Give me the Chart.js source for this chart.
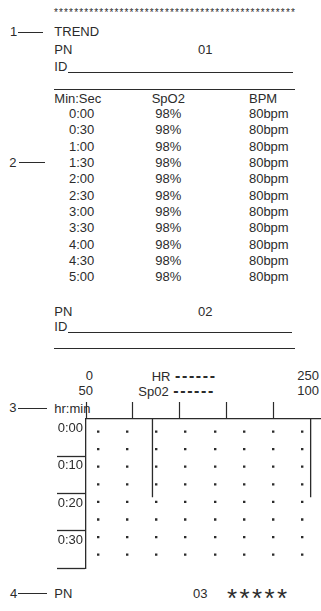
<!DOCTYPE html>
<html>
<head>
<meta charset="utf-8">
<script src="https://cdn.jsdelivr.net/npm/chart.js@4.4.0/dist/chart.umd.min.js"></script>
<style>
body{margin:0;background:#fff;}
#page{position:relative;width:321px;height:611px;overflow:hidden;font-family:"Liberation Sans",Arial,sans-serif;font-size:13px;color:#2b2b2b;}
.t{position:absolute;line-height:13px;white-space:nowrap;}
.hl{position:absolute;height:0;border-top:1.3px solid #2b2b2b;}
.dash{font-weight:bold;font-size:16px;letter-spacing:1.6px;margin-left:1px;}
#trend{position:absolute;left:0;top:395px;}
</style>
</head>
<body>
<div id="page">
  <div class="t" style="left:54px;top:7.5px;font-size:10px;line-height:10px;letter-spacing:1.15px">************************************************</div>

  <div class="t" style="left:10px;top:25.3px">1</div><div class="hl" style="left:18px;top:31.5px;width:25px"></div>
  <div class="t" style="left:54.3px;top:25.3px">TREND</div>
  <div class="t" style="left:54.3px;top:42.9px">PN</div><div class="t" style="left:198px;top:42.9px">01</div>
  <div class="t" style="left:54.3px;top:59.6px">ID</div><div class="hl" style="left:68px;top:72px;width:225px"></div>
  <div class="hl" style="left:54px;top:89px;width:241px"></div>
  <div class="t" style="left:54.3px;top:91.9px">Min:Sec</div>
  <div class="t" style="left:151.7px;top:91.9px">SpO2</div>
  <div class="t" style="left:249px;top:91.9px">BPM</div>
  <div id="rows"></div>

  <div class="t" style="left:9.3px;top:155.9px">2</div><div class="hl" style="left:19px;top:162px;width:26px"></div>

  <div class="t" style="left:54.3px;top:305.3px">PN</div><div class="t" style="left:198px;top:305.3px">02</div>
  <div class="t" style="left:54.3px;top:320.3px">ID</div><div class="hl" style="left:68px;top:332px;width:224px"></div>
  <div class="hl" style="left:53.5px;top:348px;width:241.5px"></div>

  <div class="t" style="right:228px;top:368.6px">0</div>
  <div class="t" style="left:151.7px;top:368.6px">HR <span class="dash">------</span></div>
  <div class="t" style="right:2px;top:368.6px">250</div>
  <div class="t" style="right:228px;top:383.6px">50</div>
  <div class="t" style="left:138.3px;top:383.6px">Sp02 <span class="dash">------</span></div>
  <div class="t" style="right:2px;top:383.6px">100</div>

  <div class="t" style="left:9.3px;top:401.3px">3</div><div class="hl" style="left:18px;top:407.5px;width:29px"></div>
  <div class="t" style="left:54.3px;top:402px">hr:min</div>

  <canvas id="trend" width="321" height="180"></canvas>

  <div class="t" style="left:10px;top:586.6px">4</div><div class="hl" style="left:18px;top:593px;width:29px"></div>
  <div class="t" style="left:54.3px;top:586.6px">PN</div>
  <div class="t" style="left:193px;top:586.6px">03</div>
  <div class="t" style="left:227px;top:585px;font-size:26px;line-height:26px;letter-spacing:2.4px">*****</div>
</div>
<script>
// trend table, page 01 (min:sec, SpO2 %, bpm)
const tableTimes=['0:00','0:30','1:00','1:30','2:00','2:30','3:00','3:30','4:00','4:30','5:00'];
const tableSpo2=[98,98,98,98,98,98,98,98,98,98,98];
const tableBpm=[80,80,80,80,80,80,80,80,80,80,80];

// trend graph, page 02 (minutes from start)
const graphMinutes=[0,21];
const graphHr=[71,71];
const graphSpo2=[98,98];

const ink='#2b2b2b';
const font='"Liberation Sans", Arial, sans-serif';

// table rows
const rows=document.getElementById('rows');
tableTimes.forEach(function(t,i){
  const y=113.3+16.34*i-6.4;
  const cells=[[t,81.7],[tableSpo2[i]+'%',168.3],[tableBpm[i]+'bpm',268.8]];
  cells.forEach(function(c){
    const d=document.createElement('div');
    d.className='t'; d.textContent=c[0];
    d.style.left=c[1]+'px'; d.style.top=y+'px'; d.style.transform='translateX(-50%)';
    rows.appendChild(d);
  });
});

function toPoints(vals){ return graphMinutes.map((m,i)=>({x:vals[i],y:m})); }

new Chart(document.getElementById('trend'),{
  type:'scatter',
  data:{datasets:[
    {label:'HR',data:toPoints(graphHr),xAxisID:'xHr',yAxisID:'y',showLine:true,borderColor:ink,borderWidth:1.3,pointRadius:0},
    {label:'Sp02',data:toPoints(graphSpo2),xAxisID:'xSp',yAxisID:'y',showLine:true,borderColor:ink,borderWidth:1.3,pointRadius:0}
  ]},
  options:{
    responsive:false,animation:false,
    layout:{padding:{left:0,right:1,top:0,bottom:7}},
    plugins:{legend:{display:false},tooltip:{enabled:false}},
    scales:{
      xSp:{type:'linear',position:'top',min:50,max:100,
        ticks:{display:false,stepSize:10},
        grid:{drawOnChartArea:false,tickLength:17,tickWidth:1.2,
          tickColor:c=>c.tick&&c.tick.value===100?'transparent':ink},
        border:{display:true,color:ink,width:1.3},
        afterFit:s=>{s.height=24;}},
      xHr:{type:'linear',position:'top',min:0,max:250,display:false},
      // dotted background grid
      xDots:{type:'linear',position:'bottom',min:-0.4,max:7.6,
        ticks:{display:false},
        afterBuildTicks:s=>{s.ticks=[];for(let i=0;i<8;i++)s.ticks.push({value:i});},
        grid:{drawTicks:false,color:ink,lineWidth:2.4},
        border:{display:false,dash:[2.3,15.29],dashOffset:6.2},
        afterFit:s=>{s.height=0;}},
      y:{type:'linear',position:'left',reverse:true,min:0,max:40,
        ticks:{stepSize:10,padding:-26,labelOffset:9.5,color:ink,font:{family:font,size:13},
          callback:v=>v<40?Math.floor(v/60)+':'+String(v%60).padStart(2,'0'):''},
        grid:{drawOnChartArea:false,tickLength:29,tickWidth:1.3,
          tickColor:c=>c.tick&&c.tick.value===0?'transparent':ink},
        border:{display:true,color:ink,width:1.3},
        afterFit:s=>{s.width=86;}}
    }
  }
});
</script>
</body>
</html>
